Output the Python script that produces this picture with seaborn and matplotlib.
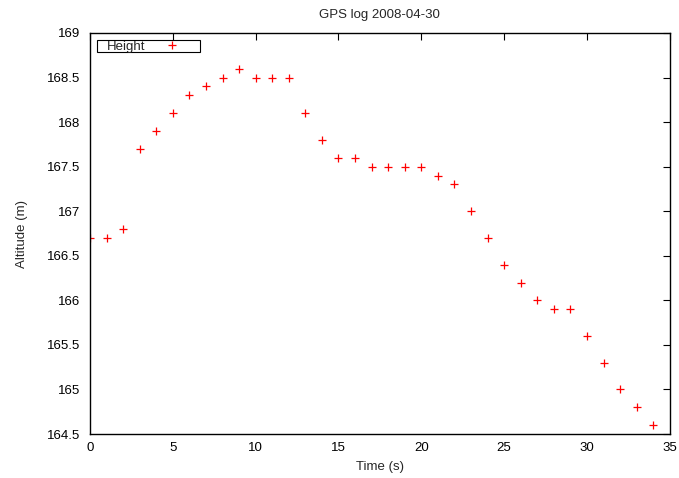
import numpy as np
import matplotlib
matplotlib.use('Agg')
import matplotlib.pyplot as plt
import seaborn as sns
import pandas as pd

# Data
time_s = list(range(35))
altitude_m = [166.7, 166.7, 166.8, 167.7, 167.9, 168.1, 168.3, 168.4, 168.5, 168.6,
              168.5, 168.5, 168.5, 168.1, 167.8, 167.6, 167.6, 167.5, 167.5, 167.5,
              167.5, 167.4, 167.3, 167.0, 166.7, 166.4, 166.2, 166.0, 165.9, 165.9,
              165.6, 165.3, 165.0, 164.8, 164.6]
x_ticks = [0, 5, 10, 15, 20, 25, 30, 35]
y_ticks = [164.5, 165, 165.5, 166, 166.5, 167, 167.5, 168, 168.5, 169]

df = pd.DataFrame({'Time (s)': time_s, 'Height': altitude_m})

sns.set_style('white')
plt.rcParams['font.family'] = ['Liberation Sans', 'DejaVu Sans']
fs = 9.5

fig = plt.figure(figsize=(6.79, 4.78), dpi=100)
ax = fig.add_axes([0.1325, 0.092, 0.854, 0.839])

sns.scatterplot(data=df, x='Time (s)', y='Height', ax=ax, marker='+',
                color='red', s=28, linewidth=0.9, label='Height')

ax.set_xlim(0, 35)
ax.set_ylim(164.5, 169)
ax.set_xticks(x_ticks)
ax.set_yticks(y_ticks)
ax.set_xticklabels([str(t) for t in x_ticks])
ax.set_yticklabels([f'{t:g}' for t in y_ticks])
ax.tick_params(direction='in', length=5, width=0.8, top=True, right=True,
               labelsize=fs, colors='black')
ax.tick_params(axis='x', pad=6)
ax.tick_params(axis='y', pad=7)
for sp in ax.spines.values():
    sp.set_color('black')
    sp.set_linewidth(1.0)

ax.set_xlabel('Time (s)', fontsize=fs, labelpad=5)
ax.set_ylabel('Altitude (m)', fontsize=fs, labelpad=14)
ax.set_title('GPS log 2008-04-30', fontsize=fs, pad=11)

leg = ax.legend(loc='upper left', markerfirst=False, fancybox=False, frameon=True,
                edgecolor='black', fontsize=fs, borderpad=0.0, handlelength=4.24,
                handletextpad=0.68, borderaxespad=0.5, framealpha=1)
leg.get_frame().set_linewidth(0.8)
# pad the text on the left like the gnuplot key
leg.get_texts()[0].set_position((10, -1.5))

fig.savefig('out.png', dpi=100)
